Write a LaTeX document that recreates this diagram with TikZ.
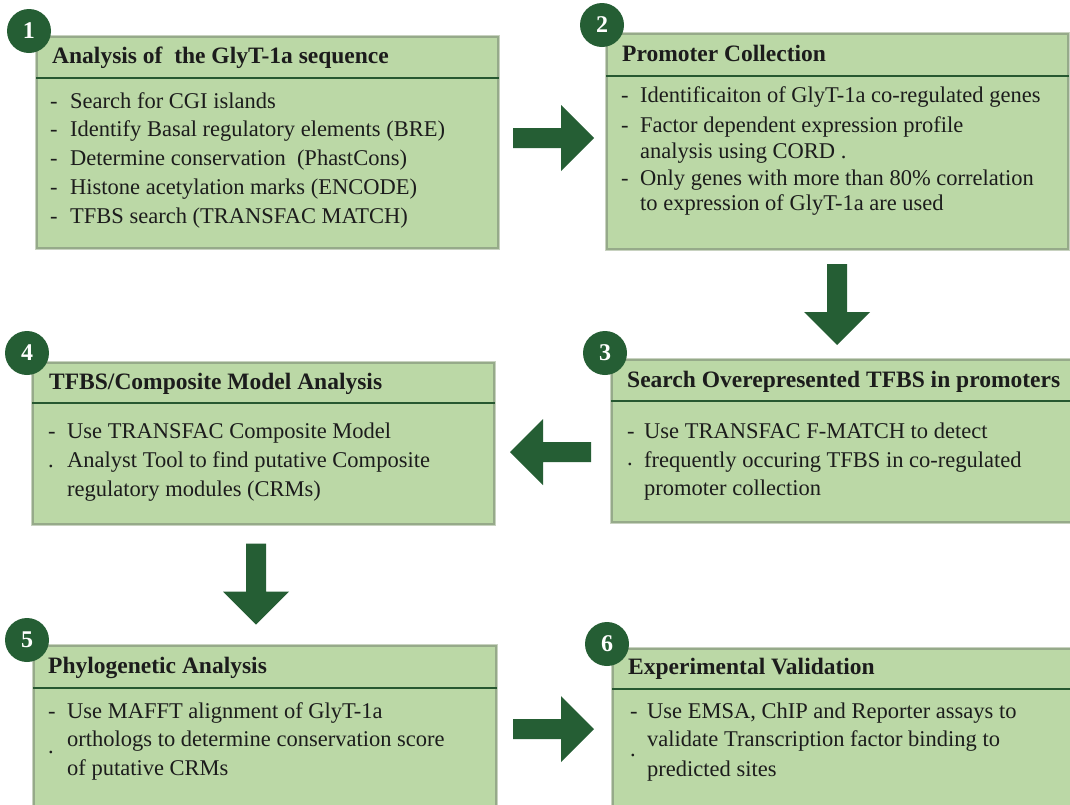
\documentclass[tikz,border=0pt]{standalone}
\usepackage{fontspec}
\setmainfont{Liberation Serif}
\usetikzlibrary{calc}

\definecolor{boxfill}{RGB}{187,216,166}
\definecolor{boxedge}{RGB}{150,170,138}
\definecolor{boxhalo}{RGB}{200,210,192}
\definecolor{rulegreen}{RGB}{38,88,48}
\definecolor{darkgreen}{RGB}{37,94,52}
\definecolor{inktext}{RGB}{28,28,28}

\tikzset{
  stagebox/.style={rectangle, draw=boxedge, line width=1.6pt, fill=boxfill,
    anchor=north west, inner sep=0pt,
    preaction={draw=boxhalo, line width=3.4pt}},
  stagenum/.style={circle, fill=darkgreen, text=white, minimum size=44pt,
    inner sep=0pt, font=\fontsize{24}{24}\selectfont\bfseries},
  stagetitle/.style={anchor=base west, inner sep=0pt, text=inktext,
    font=\fontsize{23.5}{28}\selectfont\bfseries},
  stagebody/.style={anchor=base west, inner sep=0pt, text=inktext},
  headrule/.style={draw=rulegreen, line width=2pt},
  flowarrow/.pic={
    \fill[darkgreen] (-40.5,-10) -- (7.5,-10) -- (7.5,-33) -- (40.5,0)
      -- (7.5,33) -- (7.5,10) -- (-40.5,10) -- cycle;
  }
}

\begin{document}
\begin{tikzpicture}[x=1pt, y=-1pt]
\useasboundingbox (0,0) rectangle (1070,804);
\fill[white] (0,0) rectangle (1070,804);
\begin{scope}
\clip (0,0) rectangle (1070,804);

% stage boxes
\node[stagebox, minimum width=461pt, minimum height=211pt] (b1) at (36,36) {};
\node[stagebox, minimum width=461pt, minimum height=215pt] (b2) at (606,33) {};
\node[stagebox, minimum width=470pt, minimum height=162pt] (b3) at (611,359) {};
\node[stagebox, minimum width=461pt, minimum height=161pt] (b4) at (32,362) {};
\node[stagebox, minimum width=462pt, minimum height=180pt] (b5) at (33,645) {};
\node[stagebox, minimum width=470pt, minimum height=180pt] (b6) at (612,648) {};

% rules under the headings
\draw[headrule] ($(b1.north west)+(0,42)$) -- ($(b1.north east)+(0,42)$);
\draw[headrule] ($(b2.north west)+(0,43)$) -- ($(b2.north east)+(0,43)$);
\draw[headrule] ($(b3.north west)+(0,42)$) -- ($(b3.north east)+(0,42)$);
\draw[headrule] ($(b4.north west)+(0,41)$) -- ($(b4.north east)+(0,41)$);
\draw[headrule] ($(b5.north west)+(0,43)$) -- ($(b5.north east)+(0,43)$);
\draw[headrule] ($(b6.north west)+(0,41)$) -- ($(b6.north east)+(0,41)$);

% headings
\node[stagetitle] (h1) at (52,63) {Analysis of\ \ the GlyT-1a sequence};
\node[stagetitle] (h2) at (622,61) {Promoter Collection};
\node[stagetitle] (h3) at (627,387) {Search Overepresented TFBS in promoters};
\node[stagetitle] (h4) at (49,389) {TFBS/Composite Model Analysis};
\node[stagetitle] (h5) at (48,673) {Phylogenetic Analysis};
\node[stagetitle] (h6) at (628,674) {Experimental Validation};

% bullet lists
\node[stagebody] (t1) at (50,108) {\fontsize{22.5}{28.75}\selectfont
  \begin{tabular}[t]{@{}p{20pt}@{}l@{}}
  - & Search for CGI islands\\
  - & Identify Basal regulatory elements (BRE)\\
  - & Determine conservation\ \ (PhastCons)\\
  - & Histone acetylation marks (ENCODE)\\
  - & TFBS search (TRANSFAC MATCH)
  \end{tabular}};

\node[stagebody] (t2) at (621,102) {\fontsize{22.5}{25.5}\selectfont
  \begin{tabular}[t]{@{}p{19pt}@{}l@{}}
  - & Identificaiton of\ GlyT-1a co-regulated genes\\[4.5pt]
  - & Factor dependent expression profile\\[0.5pt]
    & analysis using CORD .\\[1.5pt]
  - & Only genes with more than 80\% correlation\\
    & to expression of\ GlyT-1a are used
  \end{tabular}};

\node[stagebody] (t3) at (627,438) {\fontsize{22.5}{28.5}\selectfont
  \begin{tabular}[t]{@{}p{17pt}@{}l@{}}
  - & Use TRANSFAC F-MATCH to detect\\[1pt]
  \raisebox{2pt}{.} & frequently occuring TFBS in co-regulated\\[-1pt]
    & promoter collection
  \end{tabular}};

\node[stagebody] (t4) at (48,438) {\fontsize{22.5}{28.5}\selectfont
  \begin{tabular}[t]{@{}p{19pt}@{}l@{}}
  - & Use TRANSFAC Composite Model\\[1pt]
  . & Analyst Tool to find putative Composite\\
    & regulatory modules (CRMs)
  \end{tabular}};

\node[stagebody] (t5) at (48,718) {\fontsize{22.5}{28.5}\selectfont
  \begin{tabular}[t]{@{}p{19pt}@{}l@{}}
  - & Use MAFFT alignment of\ GlyT-1a\\
  \raisebox{-7pt}{.} & orthologs to determine conservation score\\
    & of\ putative CRMs
  \end{tabular}};

\node[stagebody] (t6) at (630,718) {\fontsize{22.5}{28.5}\selectfont
  \begin{tabular}[t]{@{}p{17pt}@{}l@{}}
  - & Use EMSA, ChIP and Reporter assays to\\
  \raisebox{-10pt}{.} & validate Transcription factor binding to\\
    & predicted sites
  \end{tabular}};

% numbered badges
\node[stagenum] (n1) at (29,31) {1};
\node[stagenum] (n2) at (602,25) {2};
\node[stagenum] (n3) at (605,353) {3};
\node[stagenum] (n4) at (27,353) {4};
\node[stagenum] (n5) at (27,640) {5};
\node[stagenum] (n6) at (607,644) {6};

% flow arrows between the stages
\coordinate (a12) at (553.5,138);
\coordinate (a23) at (837,304.5);
\coordinate (a34) at (550.5,452);
\coordinate (a45) at (256,584);
\coordinate (a56) at (553.5,729);
\pic at (a12) {flowarrow};
\pic[rotate=-90] at (a23) {flowarrow};
\pic[rotate=180] at (a34) {flowarrow};
\pic[rotate=-90] at (a45) {flowarrow};
\pic at (a56) {flowarrow};
\end{scope}
\end{tikzpicture}
\end{document}
